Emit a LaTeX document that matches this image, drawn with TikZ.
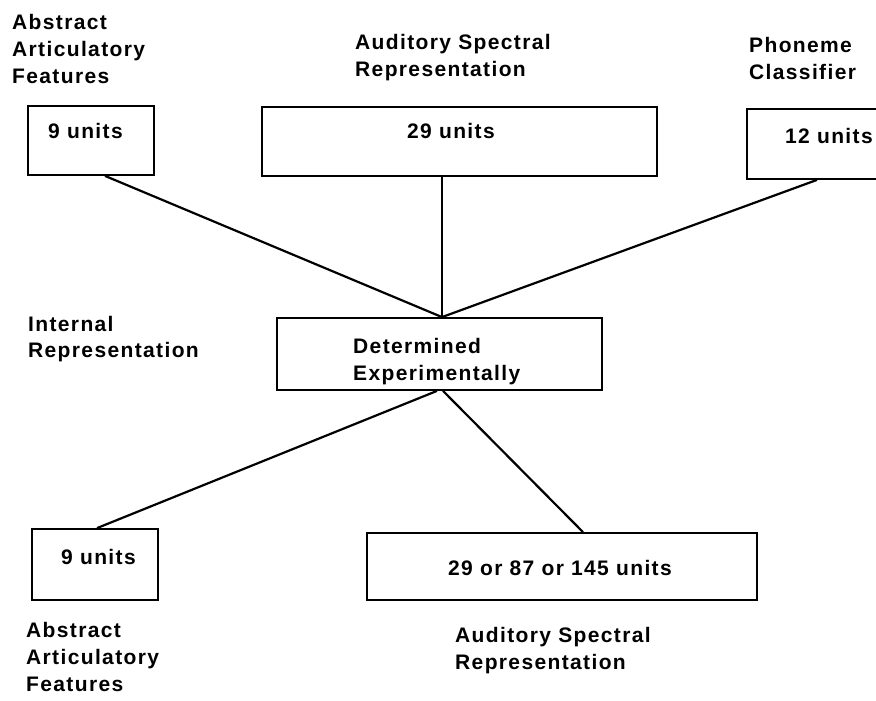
\documentclass[tikz,border=0pt]{standalone}
\usepackage{fontspec}
\setmainfont{Liberation Sans}[LetterSpace=6.5]
\newcommand{\stacklines}[1]{\vtop{\baselineskip=27pt\lineskiplimit=-100pt\def\nl{\egroup\hbox\bgroup}\hbox\bgroup#1\egroup}}
\begin{document}
\begin{tikzpicture}[x=1pt,y=-1pt,
  box/.style={draw,line width=1.8pt,inner sep=0pt},
  txt/.style={anchor=base west,inner sep=0pt,font=\fontsize{21}{27}\selectfont\bfseries},
  link/.style={line width=2.2pt}]
\useasboundingbox (0,0) rectangle (876,701);
\clip (0,0) rectangle (876,701);
% boxes
\node[box,minimum width=126pt,minimum height=69pt] (bAAF) at (91,140.5) {};
\node[box,minimum width=395pt,minimum height=69pt] (bASR) at (459.5,141.5) {};
\node[box,minimum width=153pt,minimum height=70pt] (bPC) at (823.5,144) {};
\node[box,minimum width=325pt,minimum height=72pt] (mid) at (439.5,354) {};
\node[box,minimum width=126pt,minimum height=71pt] (bBL) at (95,564.5) {};
\node[box,minimum width=390pt,minimum height=67pt] (bBR) at (562,566.5) {};
% box texts
\node[txt] (tAAF) at (48,138) {9 units};
\node[txt] (tASR) at (407,139) {29 units};
\node[txt] (tPC) at (785,143) {12 units};
\node[txt] (tmid) at (353,353) {\stacklines{Determined\nl Experimentally}};
\node[txt] (tBL) at (61,564) {9 units};
\node[txt] (tBR) at (448,575) {29 or 87 or 145 units};
% labels
\node[txt] (lAAF) at (12,30) {\stacklines{Abstract\nl Articulatory\nl Features}};
\node[txt] (lASR) at (355,50) {\stacklines{Auditory Spectral\nl Representation}};
\node[txt] (lPC) at (749,53) {\stacklines{Phoneme\nl Classifier}};
\node[txt] (lIR) at (28,331) {\vtop{\baselineskip=26pt\hbox{Internal}\hbox{Representation}}};
\node[txt] (lBAAF) at (26,637) {\stacklines{Abstract\nl Articulatory\nl Features}};
\node[txt] (lBASR) at (455,642) {\stacklines{Auditory Spectral\nl Representation}};
% connectors
\coordinate (mt) at ([xshift=2.5pt]mid.north);
\draw[link] ([xshift=14pt]bAAF.south) -- (mt);
\draw[link] (mt |- bASR.south) -- (mt);
\draw[link] ([xshift=-6.5pt]bPC.south) -- (mt);
\draw[link] ([xshift=-2.5pt]mid.south) -- ([xshift=2pt]bBL.north);
\draw[link] ([xshift=3.5pt]mid.south) -- ([xshift=21pt]bBR.north);
\end{tikzpicture}
\end{document}
